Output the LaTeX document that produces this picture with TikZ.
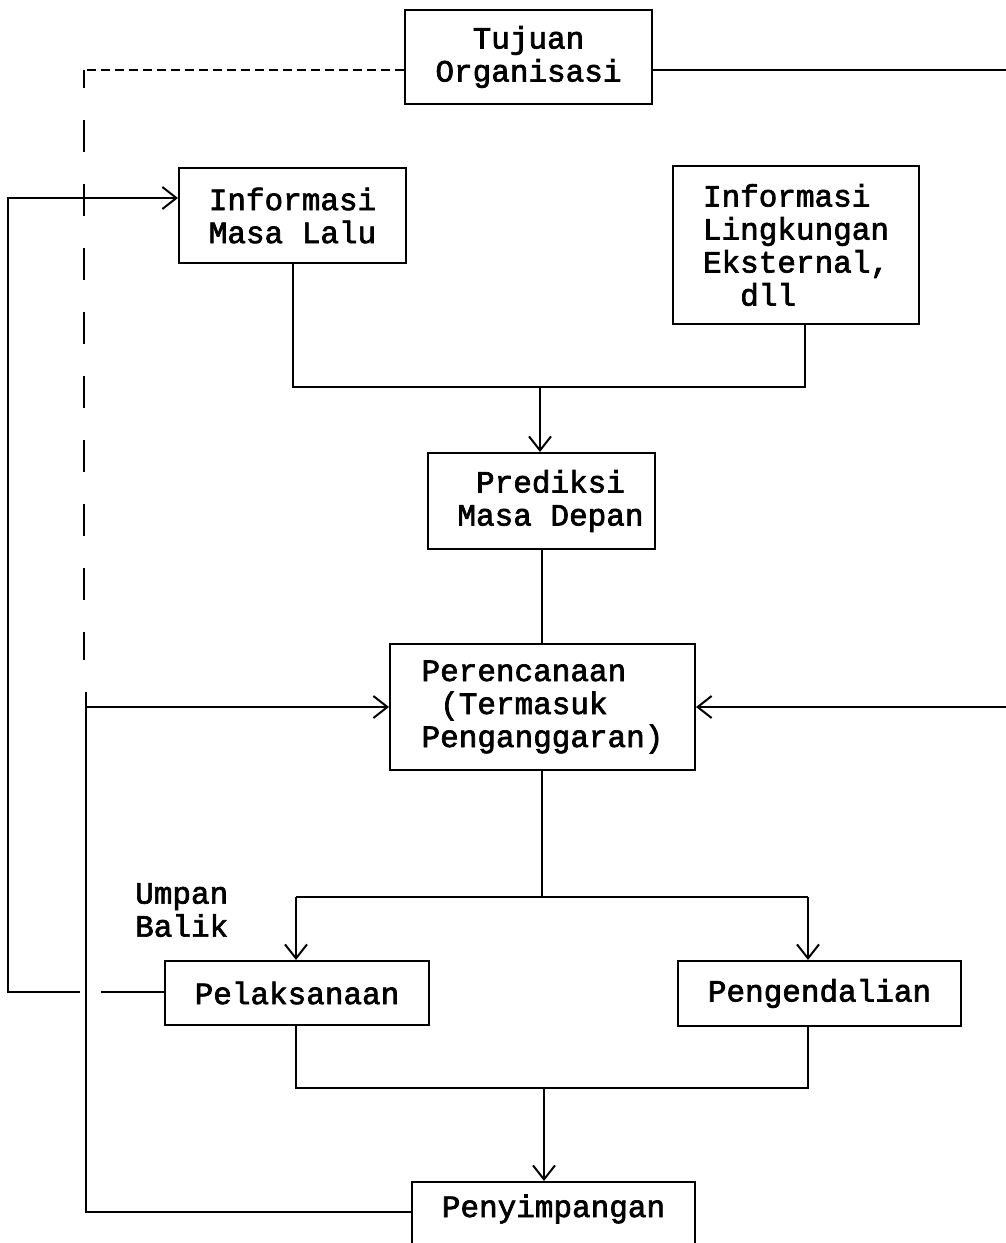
\documentclass[tikz,border=0pt]{standalone}
\usepackage{fontspec}
\newfontfamily\typew{Liberation Mono}[FakeBold=2.2]
\usetikzlibrary{arrows.meta}
\begin{document}
\begin{tikzpicture}[x=1pt,y=-1pt,
  every node/.style={font=\typew\fontsize{31pt}{33pt}\selectfont},
  box/.style={draw, line width=2pt, anchor=north west, inner sep=0pt, align=center},
  ln/.style={line width=2pt},
  arr/.style={ln, -{Straight Barb[length=14pt,width=22pt]}},
  shortdash/.style={ln, dash pattern=on 9pt off 5pt},
  longdash/.style={ln, dash pattern=on 32pt off 32pt, dash phase=14pt}
]
\clip (0,0) rectangle (1006,1243);
\fill[white] (0,0) rectangle (1006,1243);

% boxes
\node[box, minimum width=247pt, minimum height=94pt] (tujuan) at (404,9) {Tujuan\\Organisasi};
\node[box, minimum width=227pt, minimum height=95pt] (mlalu) at (178,167) {Informasi\\Masa Lalu};
\node[box, align=left, minimum width=246pt, minimum height=158pt] (ling) at (672,165) {Informasi\\Lingkungan\\Eksternal,\\\hspace*{1.2em}dll};
\node[box, minimum width=227pt, minimum height=96pt] (pred) at (427,452) {\hspace*{18pt}Prediksi\\\hspace*{18pt}Masa Depan};
\node[box, align=left, minimum width=305pt, minimum height=126pt] (renc) at (389,643) {Perencanaan\\\hspace*{0.6em}(Termasuk\\Penganggaran)};
\node[box, minimum width=264pt, minimum height=64pt] (pel) at (164,960) {Pelaksanaan};
\node[box, minimum width=283pt, minimum height=65pt] (peng) at (677,960) {Pengendalian};
\node[box, anchor=base, minimum width=283pt, text height=35pt, text depth=45pt] (peny) at (553.5,1217) {Penyimpangan};
\node[anchor=north west, inner sep=0pt, align=left] (umpan) at (135,883) {Umpan\\Balik};

% coordinates
\coordinate (dc) at (84,70);
\coordinate (dend) at (84,660);
\coordinate (rt) at (1010,70);
\coordinate (rm) at (1010,707);
\coordinate (fbtop) at (86,692);
\coordinate (fbin) at (86,707);
\coordinate (fbbot) at (86,1212);
\coordinate (lt) at (8,198);
\coordinate (lb) at (8,992);
\coordinate (gapL) at (80,992);
\coordinate (gapR) at (101,992);
\coordinate (j1) at (540,387);
\coordinate (j1r) at (805,387);
\coordinate (j2) at (542,897);
\coordinate (j2l) at (296,897);
\coordinate (j2r) at (808,897);
\coordinate (j3) at (544,1088);
\coordinate (j3r) at (808,1088);

% dashed link from Tujuan Organisasi
\draw[shortdash] (tujuan.west |- dc) -- (dc);
\draw[longdash] (dc) -- (dend);
% solid link from Tujuan Organisasi to the right
\draw[ln] (tujuan.east |- rt) -- (rt);

% inputs to prediction
\draw[ln] (mlalu.south) |- (j1r) -- (j1r |- ling.south);
\draw[arr] (j1) -- (j1 |- pred.north);
\draw[ln] (pred.south) -- (pred.south |- renc.north);

% inputs to planning
\draw[ln] (fbtop) -- (fbbot) -- (peny.west |- fbbot);
\draw[arr] (fbin) -- (renc.west |- fbin);
\draw[arr] (rm) -- (renc.east |- rm);

% planning to execution and control
\draw[ln] (renc.south -| j2) -- (j2);
\draw[ln] (j2l) -- (j2r);
\draw[arr] (j2l) -- (j2l |- pel.north);
\draw[arr] (j2r) -- (j2r |- peng.north);

% execution and control to deviation
\draw[ln] (pel.south -| j2l) |- (j3r) -- (j3r |- peng.south);
\draw[arr] (j3) -- (j3 |- peny.north);

% feedback
\draw[ln] (pel.west |- gapR) -- (gapR);
\draw[arr] (gapL) -- (lb) -- (lt) -- (mlalu.west |- lt);
\end{tikzpicture}
\end{document}
